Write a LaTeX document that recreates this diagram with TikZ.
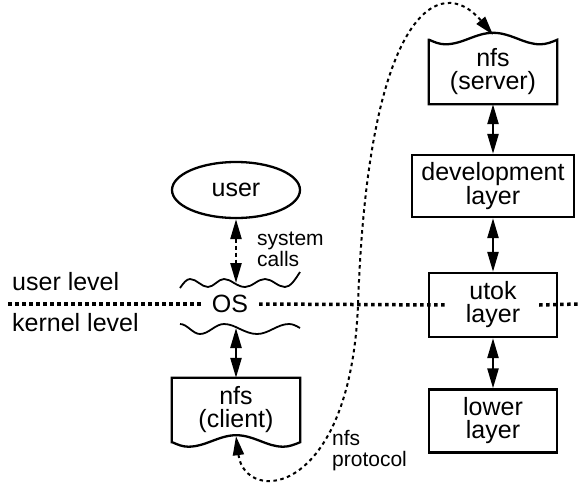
\documentclass[tikz,border=0pt]{standalone}
\usepackage{fontspec}
\setmainfont{Liberation Sans}
\usetikzlibrary{arrows.meta,shapes.geometric,calc}
\tikzstyle{txt} = [font=\fontsize{25}{23}\selectfont, align=center, inner sep=0pt]
\tikzstyle{note} = [font=\fontsize{21}{21}\selectfont, align=left, inner sep=0pt, anchor=west]
\tikzstyle{layerbox} = [txt, minimum width=128pt, minimum height=64pt]
\tikzstyle{shapeline} = [line width=2.3pt]
\tikzstyle{osline} = [line width=1.8pt]
\tikzstyle{updown} = [line width=2.4pt, {Triangle[length=20pt,width=11pt]}-{Triangle[length=20pt,width=11pt]}]
\tikzstyle{levelline} = [line width=3.5pt, dash pattern=on 3.5pt off 3.5pt]
\tikzstyle{proto} = [line width=2pt, dash pattern=on 3.5pt off 3.5pt, {Triangle[length=19pt,width=11pt]}-{Triangle[length=19pt,width=11pt]}]
\begin{document}
\begin{tikzpicture}[x=1pt,y=-1pt]
\useasboundingbox (0,0) rectangle (578,485);
% left column
\draw (236,190) node (user) [txt, ellipse, draw, shapeline, minimum width=128pt, minimum height=56pt] {user};
\draw (230,304) node (os) [txt, minimum width=58pt] {OS};
\draw (236,410) node (cl) [layerbox] {nfs\\(client)};
\coordinate (os-t) at (236,283);
\coordinate (os-b) at (236,328);
\coordinate (cl-w) at ([yshift=6pt]cl.south);
\draw[osline] (180,288) sin (190,279) cos (199,283) sin (208,287) cos (216,283) sin (224,279) cos (234,283) sin (245,287) cos (255,283) sin (265,279) cos (275,283) sin (285,287) cos (300,272);
\draw[osline] (180,324) cos (190,329) sin (200,334) cos (212,329) sin (224,324) cos (240,329) sin (257,334) cos (273,329) sin (289,324) cos (300,328);
\draw[shapeline] (cl.south west) -- (cl.north west) -- (cl.north east) -- (cl.south east) sin ++(-17,4.5) cos ++(-23,-5.75) sin ++(-24,-5.75) cos ++(-24,5.75) sin ++(-24,5.75) cos ++(-16,-4.5) -- cycle;
% right column
\draw (493,72) node (srv) [layerbox] {nfs\\(server)};
\draw (493,186) node (dev) [layerbox, draw, shapeline, minimum width=162pt, minimum height=62pt] {development\\layer};
\draw (493,305) node (ut) [layerbox, draw, shapeline] {utok\\layer};
\draw (493,421) node (low) [layerbox, draw, shapeline, minimum height=63pt] {lower\\layer};
\coordinate (srv-w) at ([yshift=5pt]srv.north);
\draw[shapeline] (srv.north west) -- (srv.south west) -- (srv.south east) -- (srv.north east) sin ++(-17,4.5) cos ++(-23,-5.75) sin ++(-24,-5.75) cos ++(-24,5.75) sin ++(-24,5.75) cos ++(-16,-4.5) -- cycle;
% levels
\coordinate (lvl-l) at (8,304);
\coordinate (lvl-r) at (578,304);
\draw[levelline] (lvl-l) -- (os.west);
\draw[levelline] (os.east) -- ([xshift=19pt]ut.west);
\draw[levelline] ([xshift=-19pt]ut.east) -- (lvl-r);
\node[txt, anchor=west] (ul) at (12,282) {user level};
\node[txt, anchor=west] (kl) at (12,323) {kernel level};
% arrows
\draw[updown, dash pattern=on 4pt off 3pt] (user.south) -- (os-t);
\draw[updown] (os-b) -- (cl.north);
\draw[updown] (srv.south) -- (dev.north);
\draw[updown] (dev.south) -- (ut.north);
\draw[updown] (ut.south) -- (low.north);
\draw[proto] (cl-w) .. controls (245,505) and (350,498) .. (358,305) .. controls (368,10) and (440,-28) .. (srv-w);
\node[note] (sc) at (257,249) {system\\calls};
\node[note] (np) at (332,451) {nfs\\protocol};
\end{tikzpicture}
\end{document}
